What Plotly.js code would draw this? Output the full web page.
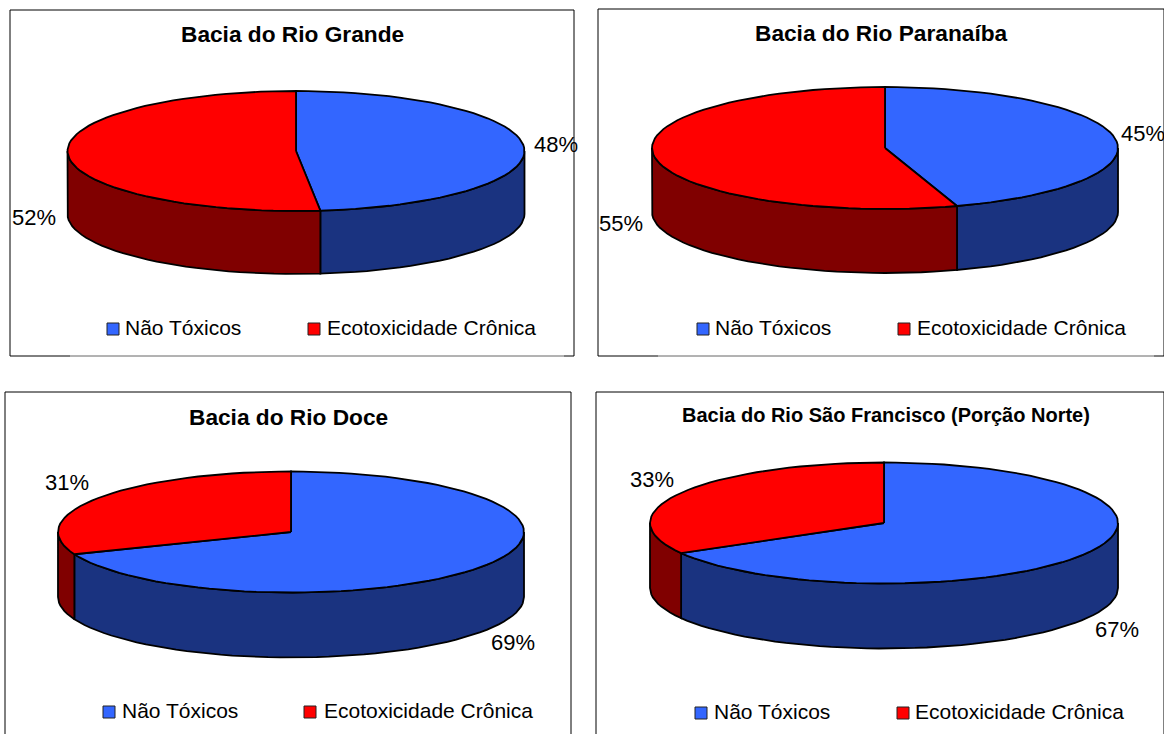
<!DOCTYPE html>
<html>
<head>
<meta charset="utf-8">
<script src="https://cdn.plot.ly/plotly-3.0.1.min.js"></script>
<style>html,body{margin:0;padding:0;background:#fff}</style>
</head>
<body>
<div id="chart" style="width:1164px;height:734px"></div>
<script>
// ---- data ----
const basins = ["Bacia do Rio Grande", "Bacia do Rio Paranaíba", "Bacia do Rio Doce", "Bacia do Rio São Francisco (Porção Norte)"];
const seriesNames = ["Não Tóxicos", "Ecotoxicidade Crônica"];
const naoToxicos = [48.3, 45, 69, 66.7];
const ecotoxicidade = [51.7, 55, 31, 33.3];

// ---- styles and layout, in page pixels ----
const W = 1164, H = 734;
const colorsTop = ["#3366FF", "#FF0000"];
const colorsSide = ["#1A3380", "#800000"];
const boxes = [[10, 574, 10, 356], [598, 1164, 9, 356], [5, 571, 392, 734], [596, 1164, 392, 734]];
const pies = [
  {cx: 296, cy: 151, a: 228.5, b: 60, d: 63},
  {cx: 885, cy: 148, a: 233, b: 61, d: 64},
  {cx: 291, cy: 532, a: 233, b: 60.5, d: 65},
  {cx: 884, cy: 523, a: 234, b: 60.5, d: 65}
];
const titlePos = [[292, 34, 22.7], [881, 33, 22.7], [288, 417, 22.7], [886, 415, 20]];
const labelPos = [[[556, 146.5], [34, 219]], [[1143, 135.5], [621, 225]], [[513, 644], [67, 484]], [[1117, 631], [652, 481]]];
const legendPos = [[[113, 329], [314, 329]], [[703, 329], [904, 329]], [[109, 712], [310, 712]], [[701, 713], [903, 713]]];
const legendTextStart = [[125, 327], [715, 917], [122, 324], [714, 915]];
const FONT = "Liberation Sans, Arial, sans-serif";

function arc(p, t0, t1, dy) {
  const xs = [], ys = [];
  const n = Math.max(2, Math.ceil(Math.abs(t1 - t0) / 3));
  for (let i = 0; i <= n; i++) {
    const t = (t0 + (t1 - t0) * i / n) * Math.PI / 180;
    xs.push(p.cx + p.a * Math.sin(t));
    ys.push(p.cy - p.b * Math.cos(t) + dy);
  }
  return {xs, ys};
}

const traces = [], annotations = [], shapes = [], layout = {};
basins.forEach((name, i) => {
  const k = i === 0 ? "" : String(i + 1);
  const xa = "x" + k, ya = "y" + k;
  const box = boxes[i], p = pies[i];
  const vals = [naoToxicos[i], ecotoxicidade[i]];
  const total = vals[0] + vals[1];
  const end = 360 * vals[0] / total;
  const spans = [[0, end], [end, 360]];

  layout["xaxis" + k] = {domain: [box[0] / W, box[1] / W], range: [box[0], box[1]], visible: false, fixedrange: true, anchor: ya};
  layout["yaxis" + k] = {domain: [1 - box[3] / H, 1 - box[2] / H], range: [box[3], box[2]], visible: false, fixedrange: true, anchor: xa};

  const base = {type: "scatter", mode: "lines", xaxis: xa, yaxis: ya, fill: "toself", hoverinfo: "skip", showlegend: false, cliponaxis: false};

  // rim: only the front half of the disc shows
  spans.forEach((s, j) => {
    const t0 = Math.max(s[0], 90), t1 = Math.min(s[1], 270);
    if (t1 <= t0) return;
    const up = arc(p, t0, t1, 0), low = arc(p, t1, t0, p.d);
    traces.push(Object.assign({}, base, {
      x: up.xs.concat(low.xs, [up.xs[0]]), y: up.ys.concat(low.ys, [up.ys[0]]),
      fillcolor: colorsSide[j], line: {color: "#000", width: 1.8}
    }));
  });
  // top slices
  spans.forEach((s, j) => {
    const a = arc(p, s[0], s[1], 0);
    traces.push(Object.assign({}, base, {
      x: [p.cx].concat(a.xs, [p.cx]), y: [p.cy].concat(a.ys, [p.cy]),
      fillcolor: colorsTop[j], line: {color: "#000", width: 1.8}
    }));
  });
  // percent labels
  vals.forEach((v, j) => {
    traces.push({type: "scatter", mode: "text", xaxis: xa, yaxis: ya, cliponaxis: false, hoverinfo: "skip", showlegend: false,
      x: [labelPos[i][j][0]], y: [labelPos[i][j][1]], text: [Math.round(v) + "%"], textposition: "middle center",
      textfont: {family: FONT, size: 22, color: "#000"}});
  });
  // legend entries
  seriesNames.forEach((n, j) => {
    traces.push({type: "scatter", mode: "markers", xaxis: xa, yaxis: ya, cliponaxis: false, hoverinfo: "skip", showlegend: false,
      x: [legendPos[i][j][0]], y: [legendPos[i][j][1]],
      marker: {symbol: "square", size: 12, color: colorsTop[j], line: {color: "#222", width: 1}}});
    traces.push({type: "scatter", mode: "text", xaxis: xa, yaxis: ya, cliponaxis: false, hoverinfo: "skip", showlegend: false,
      x: [legendTextStart[i][j]], y: [legendPos[i][j][1] + 1], text: [n], textposition: "middle right",
      textfont: {family: FONT, size: 21, color: "#000"}});
  });
  annotations.push({xref: xa, yref: ya, x: titlePos[i][0], y: titlePos[i][1], text: "<b>" + name + "</b>", showarrow: false,
    xanchor: "center", yanchor: "middle", font: {family: FONT, size: titlePos[i][2], color: "#000"}});
  // frame
  const ln = (x0, y0, x1, y1, c) => shapes.push({type: "line", xref: "paper", yref: "paper",
    x0: x0 / W, x1: x1 / W, y0: 1 - y0 / H, y1: 1 - y1 / H, line: {color: c, width: 1}});
  ln(box[0], box[2], box[1], box[2], "#000");
  ln(box[0], box[2], box[0], box[3], "#000");
  ln(box[1], box[2], box[1], box[3], "#000");
  if (box[3] < H) {
    ln(box[0], box[3], box[0] + 60, box[3], "#000");
    ln(box[0] + 60, box[3], box[1] - 10, box[3], "#666");
    ln(box[1] - 10, box[3], box[1], box[3], "#000");
  }
});

Object.assign(layout, {
  width: W, height: H, autosize: false,
  margin: {l: 0, r: 0, t: 0, b: 0, pad: 0},
  paper_bgcolor: "#fff", plot_bgcolor: "rgba(0,0,0,0)",
  showlegend: false, annotations, shapes
});
Plotly.newPlot("chart", traces, layout, {displayModeBar: false, staticPlot: true});
</script>
</body>
</html>
